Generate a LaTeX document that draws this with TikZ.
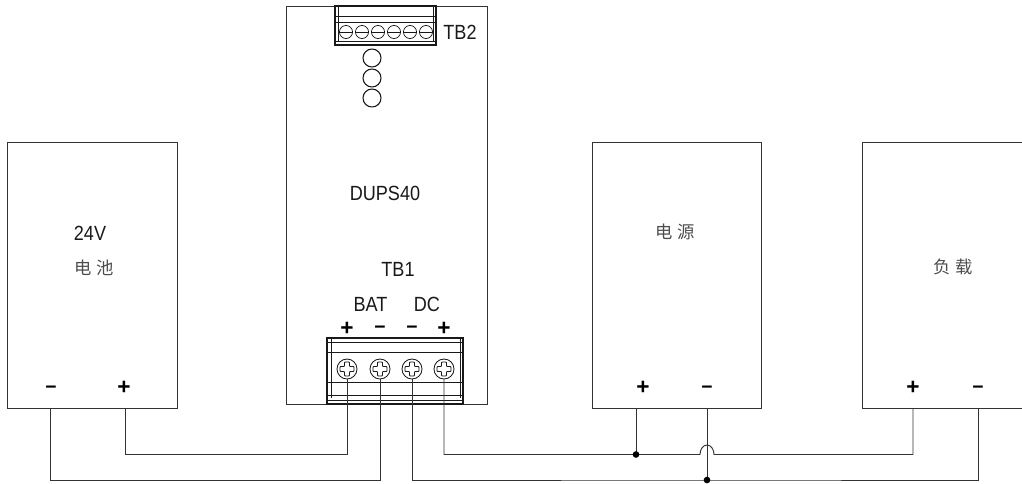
\documentclass[tikz,border=0pt]{standalone}
\usepackage{fontspec}
\setmainfont{Liberation Sans}
\newfontfamily\narrowfont[FakeStretch=0.88]{Liberation Sans}
\newfontfamily\cjk{Noto Sans CJK SC}
\usetikzlibrary{calc}
\tikzset{
  x=0.75pt,y=-0.75pt,
  box/.style={draw=black!80,line width=0.72pt},
  wire/.style={draw=black!80,line width=0.72pt},
  part/.style={draw=black!90,line width=0.6pt},
  screw/.style={circle,draw=black!90,line width=0.65pt,fill=white,minimum size=15pt,inner sep=0pt},
  smallscrew/.style={circle,draw=black!90,line width=0.55pt,minimum size=9.8pt,inner sep=0pt},
  led/.style={circle,draw=black!90,line width=0.8pt,minimum size=13.5pt,inner sep=0pt},
  lbl/.style={font=\narrowfont\fontsize{15.4pt}{17pt}\selectfont,inner sep=0pt,text=black!90},
  zh/.style={font=\cjk\fontsize{13pt}{15pt}\selectfont,inner sep=0pt,text=black!70},
  sign/.style={font=\bfseries\fontsize{17pt}{19pt}\selectfont,inner sep=0pt},
  minussign/.style={font=\bfseries\fontsize{14.5pt}{16pt}\selectfont,inner sep=0pt},
  dot/.style={circle,fill=black,inner sep=0pt,minimum size=5pt},
}
\begin{document}
\begin{tikzpicture}
\useasboundingbox (0,0) rectangle (1022,483);
% boxes
\draw[box] (7,142) rectangle (177,408);
\draw[box] (286,6) rectangle (487,404);
\draw[box] (592,142) rectangle (761,408);
\draw[box] (1022,142) -- (862,142) -- (862,408) -- (1022,408);
% TB2
\draw[part,line width=0.9pt] (335,6) rectangle (436,45);
\draw[part] (338,6) -- (338,41) (433,6) -- (433,41);
\draw[part] (335,16) -- (436,16) (335,22) -- (436,22) (335,41) -- (436,41);
\foreach \i/\x in {1/346,2/362,3/378,4/394,5/410,6/426}{
  \node[smallscrew] (s\i) at (\x,32) {};
  \draw[part] (s\i.west) -- (s\i.east);
}
\node[led] (l1) at (372,58) {};
\node[led] (l2) at (372,78) {};
\node[led] (l3) at (372,98) {};
% TB1
\draw[part,fill=white,line width=0.9pt] (327,338) rectangle (463,404);
\draw[part] (331,338) -- (331,398) (460,338) -- (460,398);
\draw[part] (327,342) -- (463,342) (327,352) -- (463,352) (327,382) -- (463,382)
            (327,395) -- (463,395) (327,400) -- (463,400);
\foreach \n/\x in {a/347,b/380,c/412,d/444}{
  \node[screw] (\n) at (\x,369) {};
  \draw[part,rounded corners=0.6pt]
    (\x-2.5,369-7) -- (\x+2.5,369-7) -- (\x+2.5,369-2.5) -- (\x+7,369-2.5) -- (\x+7,369+2.5)
    -- (\x+2.5,369+2.5) -- (\x+2.5,369+7) -- (\x-2.5,369+7) -- (\x-2.5,369+2.5) -- (\x-7,369+2.5)
    -- (\x-7,369-2.5) -- (\x-2.5,369-2.5) -- cycle;
}
% terminals on the boxes
\coordinate (batn) at (50,408);
\coordinate (batp) at (125,408);
\coordinate (psp) at (636,408);
\coordinate (psn) at (707,408);
\coordinate (lp) at (913,408);
\coordinate (ln) at (978,408);
\coordinate (j1) at (636,454.5);
\coordinate (j2) at (707,480);
% wires
\draw[wire] (a.south) |- (batp |- j1) -- (batp);
\draw[wire] (b.south) |- (batn |- j2) -- (batn);
\draw[wire] (c.south) |- (j2) -- (ln |- j2) -- (ln);
\draw[wire] (d.south) |- (j1) -- (700,454.5) arc[start angle=180,end angle=360,x radius=7,y radius=9.5] -- (lp |- j1) -- (lp);
\draw[wire] (psp) -- (j1);
\draw[wire] (psn) -- (j2);
\node[dot] at (j1) {};
\node[dot] at (j2) {};
% labels
\node[lbl] at (460,32) {TB2};
\node[lbl] at (385,193) {DUPS40};
\node[lbl] at (398,269) {TB1};
\node[lbl] at (370.5,304) {BAT};
\node[lbl] at (427,304) {DC};
\node[lbl] at (90,233) {24V};
\node[zh] at (94,268) {电\hspace{4pt}池};
\node[zh] at (675,232) {电\hspace{4pt}源};
\node[zh] at (953,267) {负\hspace{4pt}载};
\node[sign] at (347,329) {+};
\node[minussign] at (380,330) {\textminus};
\node[minussign] at (412,330) {\textminus};
\node[sign] at (444,329) {+};
\node[minussign] at (51,390) {\textminus};
\node[sign] at (124,388) {+};
\node[sign] at (643,388) {+};
\node[minussign] at (707,390) {\textminus};
\node[sign] at (913,388) {+};
\node[minussign] at (978,390) {\textminus};
\end{tikzpicture}
\end{document}
